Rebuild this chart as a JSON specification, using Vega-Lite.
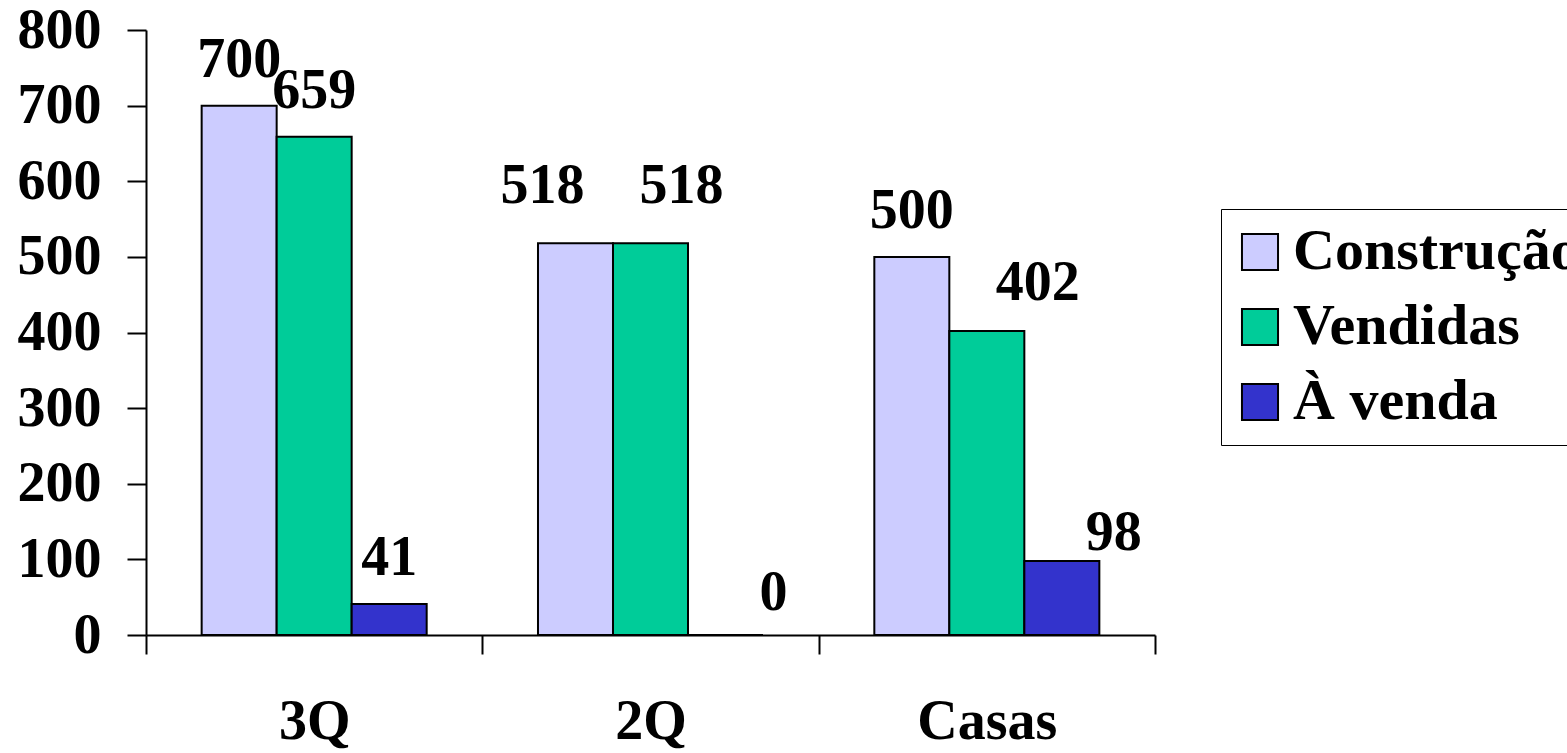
{
  "$schema": "https://vega.github.io/schema/vega-lite/v6.json",
  "width": 1009,
  "height": 605,
  "autosize": {"type": "none"},
  "padding": {"left": 146, "top": 30, "right": 412, "bottom": 118},
  "background": "white",
  "config": {
    "view": {"stroke": null},
    "font": "Liberation Serif",
    "axis": {
      "labelFont": "Liberation Serif",
      "labelFontWeight": "bold",
      "labelFontSize": 56,
      "labelColor": "black",
      "domainColor": "black",
      "domainWidth": 2,
      "tickColor": "black",
      "tickWidth": 2,
      "tickSize": 19,
      "grid": false,
      "title": null
    },
    "text": {"font": "Liberation Serif", "fontWeight": "bold", "fontSize": 56, "color": "black", "baseline": "alphabetic"}
  },
  "data": {
    "values": [
      {"cat": "3Q", "serie": "Construção", "valor": 700},
      {"cat": "3Q", "serie": "Vendidas", "valor": 659},
      {"cat": "3Q", "serie": "À venda", "valor": 41},
      {"cat": "2Q", "serie": "Construção", "valor": 518},
      {"cat": "2Q", "serie": "Vendidas", "valor": 518},
      {"cat": "2Q", "serie": "À venda", "valor": 0},
      {"cat": "Casas", "serie": "Construção", "valor": 500},
      {"cat": "Casas", "serie": "Vendidas", "valor": 402},
      {"cat": "Casas", "serie": "À venda", "valor": 98}
    ]
  },
  "encoding": {
    "x": {
      "field": "cat",
      "type": "nominal",
      "sort": ["3Q", "2Q", "Casas"],
      "scale": {"paddingInner": 0, "paddingOuter": 0},
      "axis": {"labelAngle": 0, "tickBand": "extent", "labelPadding": 40, "labelBaseline": "top"}
    },
    "xOffset": {
      "field": "serie",
      "type": "nominal",
      "sort": ["Construção", "Vendidas", "À venda"],
      "scale": {"paddingInner": 0, "paddingOuter": 0.742}
    },
    "y": {
      "field": "valor",
      "type": "quantitative",
      "scale": {"domain": [0, 800], "nice": false},
      "axis": {"values": [0, 100, 200, 300, 400, 500, 600, 700, 800], "labelPadding": 26, "labelBaseline": "middle"}
    },
    "text": {"field": "valor", "type": "quantitative"}
  },
  "layer": [
    {
      "mark": {"type": "bar", "stroke": "black", "strokeWidth": 2},
      "encoding": {
        "color": {
          "field": "serie",
          "type": "nominal",
          "sort": ["Construção", "Vendidas", "À venda"],
          "scale": {"domain": ["Construção", "Vendidas", "À venda"], "range": ["#CCCCFF", "#00CC99", "#3333CC"]},
          "legend": {
            "orient": "none",
            "legendX": 1075,
            "legendY": 179,
            "title": null,
            "strokeColor": "black",
            "padding": 14,
            "symbolType": "square",
            "symbolSize": 1300,
            "symbolOffset": -4,
            "symbolStrokeColor": "black",
            "symbolStrokeWidth": 2,
            "labelFont": "Liberation Serif",
            "labelFontWeight": "bold",
            "labelFontSize": 58,
            "labelColor": "black",
            "labelOffset": 4,
            "rowPadding": 17,
            "labelLimit": 1000
          }
        },
        "text": null
      }
    },
    {
      "transform": [{"filter": "datum.cat === '3Q' || (datum.cat === 'Casas' && datum.serie === 'Construção')"}],
      "mark": {"type": "text", "dy": -29}
    },
    {
      "transform": [{"filter": "datum.cat === '2Q' && datum.serie === 'Construção'"}],
      "mark": {"type": "text", "dy": -40, "dx": -33}
    },
    {
      "transform": [{"filter": "datum.cat === '2Q' && datum.serie === 'Vendidas'"}],
      "mark": {"type": "text", "dy": -40, "dx": 31}
    },
    {
      "transform": [{"filter": "datum.cat === '2Q' && datum.serie === 'À venda'"}],
      "mark": {"type": "text", "dy": -25, "dx": 48}
    },
    {
      "transform": [{"filter": "datum.cat === 'Casas' && datum.serie === 'Vendidas'"}],
      "mark": {"type": "text", "dy": -31, "dx": 51}
    },
    {
      "transform": [{"filter": "datum.cat === 'Casas' && datum.serie === 'À venda'"}],
      "mark": {"type": "text", "dy": -11, "dx": 52}
    }
  ]
}
